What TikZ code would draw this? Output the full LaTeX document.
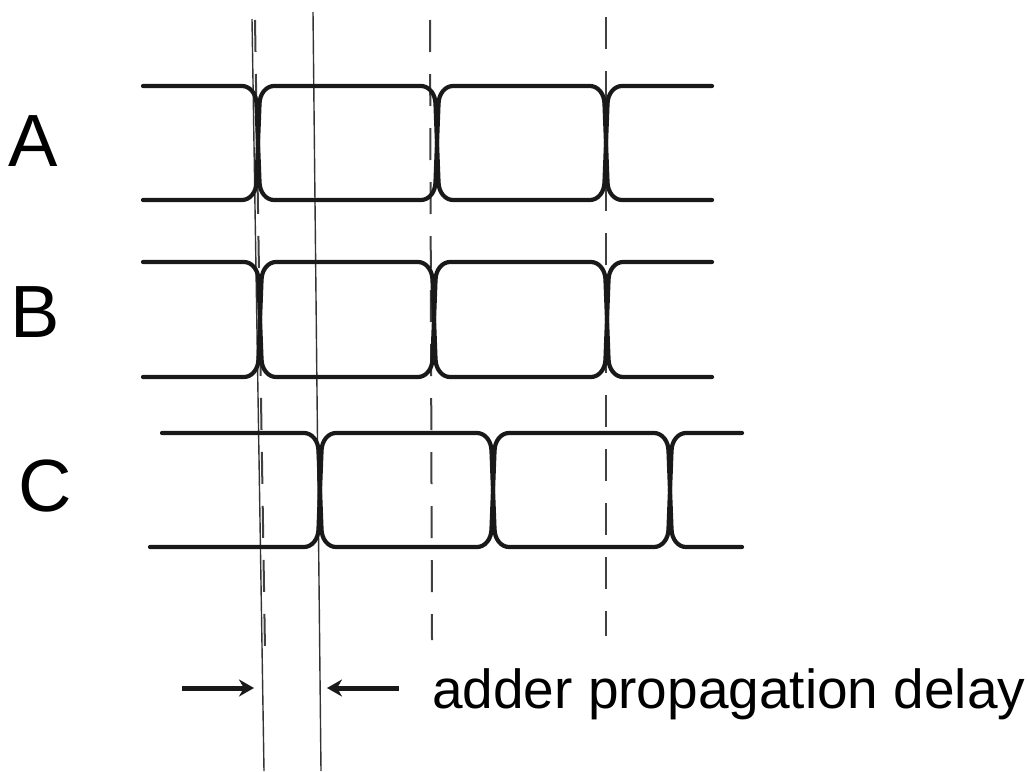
\documentclass[tikz,border=0pt]{standalone}
\usepackage{fontspec}
\setmainfont{Liberation Sans}
\usetikzlibrary{arrows.meta}
\newcommand\eyerow[9]{%
  \draw[wave] (#3,#1) [tr={#4}{#1}{#2}] [tr={#5}{#2}{#1}] [tr={#6}{#1}{#2}] -- (#7,#2);
  \draw[wave] (#9,#2) [tr={#4}{#2}{#1}] [tr={#5}{#1}{#2}] [tr={#6}{#2}{#1}] -- (#7,#1);
}
\begin{document}
\begin{tikzpicture}[x=1pt,y=-1pt,
  wave/.style={line width=4.2pt, line cap=round, line join=round, black!90},
  guide/.style={line width=1.4pt, black!80},
  clockline/.style={line width=2pt, black!75, dash pattern=on 32pt off 22pt},
  lbl/.style={font=\fontsize{74}{80}\selectfont, inner sep=0pt},
  ptr/.style={line width=5pt, black!90, -{Stealth[length=15pt,width=17pt]}},
  tr/.style n args={3}{insert path={-- (#1-16,#2)
     .. controls (#1-8,#2) and (#1-1.5,{#2+0.07*(#3-#2)}) .. (#1-1.5,{#2+0.16*(#3-#2)})
     -- (#1+1.5,{#2+0.84*(#3-#2)})
     .. controls (#1+1.5,{#2+0.93*(#3-#2)}) and (#1+8,#3) .. (#1+16,#3)}},
]
\useasboundingbox (0,0) rectangle (1027,771);

% guide lines
\draw[guide] (252,19) -- (264,771);
\draw[guide] (313,12) -- (321,771);
\draw[clockline] (255,20) -- (265,650);
\draw[clockline] (430,20) -- (432,640);
\draw[clockline] (606,17) -- (606,636);

% waveforms
\eyerow{86}{200}{143}{258}{437}{606}{712}{12}{143}
\eyerow{262}{377}{143}{260}{434}{607}{712}{12}{143}
\eyerow{433}{547}{162}{320}{493}{670}{742}{12}{150}

% labels
\node[lbl] (labA) at (33,141) {A};
\node[lbl] (labB) at (35,312) {B};
\node[lbl] (labC) at (45,486) {C};

% delay arrows
\coordinate (la) at (182,688);
\coordinate (lb) at (254,688);
\coordinate (ra) at (399,688);
\coordinate (rb) at (327,688);
\draw[ptr] (la) -- (lb);
\draw[ptr] (ra) -- (rb);

\node[anchor=base west, inner sep=0pt, font=\fontsize{55}{66}\selectfont] (txt) at (432,708) {adder propagation delay};
\end{tikzpicture}
\end{document}
